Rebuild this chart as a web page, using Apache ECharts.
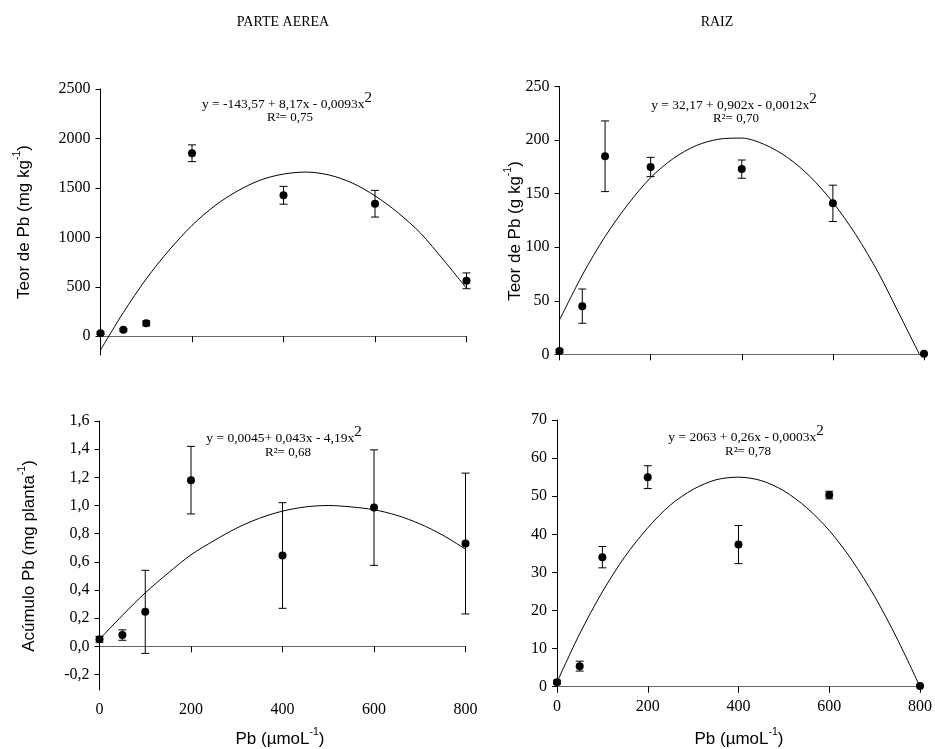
<!DOCTYPE html>
<html>
<head>
<meta charset="utf-8">
<script src="https://cdn.jsdelivr.net/npm/echarts@6/dist/echarts.min.js"></script>
<style>
html,body{margin:0;padding:0;background:#fff;}
#chart{width:935px;height:749px;}
</style>
</head>
<body>
<div id="chart"></div>
<script>
// ---- data ----
const doses = [0, 50, 100, 200, 400, 600, 800];

const teorParte    = [30, 65, 130, 1850, 1425, 1340, 560];
const teorParteErr = [12, 12, 25, 85, 90, 135, 80];

const teorRaiz    = [3, 45, 185, 175, 173, 141, 0.5];
const teorRaizErr = [1.5, 16, 33, 9, 8.5, 17, 0.5];

const acumParte    = [0.05, 0.08, 0.245, 1.18, 0.645, 0.985, 0.73];
const acumParteErr = [0.02, 0.037, 0.295, 0.24, 0.375, 0.41, 0.5];

const acumRaiz    = [1.2, 5.4, 34, 55, 37.3, 50.3, 0.2];
const acumRaizErr = [0.5, 1.3, 2.8, 3, 5, 1, 0.2];

// fitted curves, read at regular x positions
const curveX = [0, 50, 100, 150, 200, 250, 300, 350, 400, 450, 500, 550, 600, 650, 700, 750, 800];
const curveXRaiz = [0, 50, 100, 150, 200, 250, 300, 350, 400, 450, 500, 550, 600, 650, 700, 750, 790];
const curveTeorParte = [-140, 240, 580, 870, 1120, 1320, 1470, 1580, 1640, 1660, 1630, 1550, 1420, 1250, 1040, 770, 485];
const curveTeorRaiz  = [32, 74, 110, 140, 165, 183, 195, 201, 202, 196, 184, 166, 142, 112, 76, 34, 0];
const curveAcumParte = [0.05, 0.22, 0.38, 0.52, 0.65, 0.75, 0.84, 0.91, 0.96, 0.99, 1.00, 0.99, 0.97, 0.93, 0.87, 0.79, 0.69];
const curveAcumRaiz  = [1.2, 13.9, 24.9, 34.2, 41.7, 47.7, 51.8, 54.3, 55.0, 54.1, 51.4, 47.0, 41.0, 33.2, 23.7, 12.5, 0];

const xTicks = [0, 200, 400, 600, 800];
const yTicksTeorParte = [0, 500, 1000, 1500, 2000, 2500];
const yTicksAcumParte = [-0.2, 0, 0.2, 0.4, 0.6, 0.8, 1.0, 1.2, 1.4, 1.6];

const panelTitles = ['PARTE AEREA', 'RAIZ'];
const equations = [
  ['y = -143,57 + 8,17x - 0,0093x', 'R²= 0,75'],
  ['y = 32,17 + 0,902x - 0,0012x', 'R²= 0,70'],
  ['y = 0,0045+ 0,043x - 4,19x', 'R²= 0,68'],
  ['y = 2063 + 0,26x - 0,0003x', 'R²= 0,78']
];

// ---- chart ----
const SERIF = '"Liberation Serif", "Times New Roman", serif';
const SANS = '"Liberation Sans", Arial, sans-serif';

const grids = [
  {left: 100.5, top: 89, width: 366, height: 266},
  {left: 559.5, top: 86.7, width: 364.5, height: 267.6},
  {left: 99.5, top: 421, width: 366, height: 269},
  {left: 557, top: 420, width: 365.3, height: 266.7}
];

function xAxis(i, showLabels) {
  return {
    type: 'value', gridIndex: i, min: 0, max: 800, interval: 200,
    axisLine: {show: true, lineStyle: {color: '#666', width: 1}},
    axisTick: {show: true, length: 6, lineStyle: {color: '#000'}, customValues: xTicks},
    axisLabel: {show: showLabels, customValues: xTicks, formatter: v => String(v),
                fontFamily: SERIF, fontSize: 16, color: '#000', margin: 12},
    splitLine: {show: false}
  };
}
function fmtComma(v) { return v.toFixed(1).replace('.', ','); }
function fmtPlain(v) { return String(Math.round(v)); }

const yAxes = [
  {type: 'value', gridIndex: 0, min: -190, max: 2500,
   axisLabel: {customValues: yTicksTeorParte, formatter: fmtPlain}, axisTick: {customValues: yTicksTeorParte}},
  {type: 'value', gridIndex: 1, min: 0, max: 250, interval: 50, axisLabel: {formatter: fmtPlain}},
  {type: 'value', gridIndex: 2, min: -0.31, max: 1.6,
   axisLabel: {customValues: yTicksAcumParte, formatter: fmtComma}, axisTick: {customValues: yTicksAcumParte}},
  {type: 'value', gridIndex: 3, min: 0, max: 70, interval: 10, axisLabel: {formatter: fmtPlain}}
].map(a => Object.assign({
  axisLine: {show: true, onZero: false, lineStyle: {color: '#000', width: 1}},
  splitLine: {show: false}
}, a, {
  axisTick: Object.assign({show: true, length: 5, lineStyle: {color: '#000'}}, a.axisTick || {}),
  axisLabel: Object.assign({fontFamily: SERIF, fontSize: 16, color: '#000', margin: 10}, a.axisLabel || {})
}));

function pts(xs, ys) { return xs.map((x, i) => [x, ys[i]]); }
function errPts(xs, ys, es) { return xs.map((x, i) => [x, ys[i], es[i]]); }

function errorSeries(i, data) {
  return {
    type: 'custom', xAxisIndex: i, yAxisIndex: i, data: data, clip: false, z: 3,
    renderItem: function (params, api) {
      const x = api.value(0), y = api.value(1), e = api.value(2);
      const hi = api.coord([x, y + e]);
      const lo = api.coord([x, y - e]);
      const w = 4;
      const st = {stroke: '#000', lineWidth: 1};
      return {type: 'group', children: [
        {type: 'line', shape: {x1: hi[0], y1: hi[1], x2: lo[0], y2: lo[1]}, style: st},
        {type: 'line', shape: {x1: hi[0] - w, y1: hi[1], x2: hi[0] + w, y2: hi[1]}, style: st},
        {type: 'line', shape: {x1: lo[0] - w, y1: lo[1], x2: lo[0] + w, y2: lo[1]}, style: st}
      ]};
    }
  };
}
function curveSeries(i, data) {
  return {type: 'line', xAxisIndex: i, yAxisIndex: i, data: data, smooth: 0.3, symbol: 'none',
          lineStyle: {color: '#000', width: 1}, z: 2, clip: true};
}
function pointSeries(i, data) {
  return {type: 'scatter', xAxisIndex: i, yAxisIndex: i, data: data, symbol: 'circle', symbolSize: 8,
          itemStyle: {color: '#000', opacity: 1}, z: 4, clip: false};
}

const series = [
  curveSeries(0, pts(curveX, curveTeorParte)),
  errorSeries(0, errPts(doses, teorParte, teorParteErr)),
  pointSeries(0, pts(doses, teorParte)),
  curveSeries(1, pts(curveXRaiz, curveTeorRaiz)),
  errorSeries(1, errPts(doses, teorRaiz, teorRaizErr)),
  pointSeries(1, pts(doses, teorRaiz)),
  curveSeries(2, pts(curveX, curveAcumParte)),
  errorSeries(2, errPts(doses, acumParte, acumParteErr)),
  pointSeries(2, pts(doses, acumParte)),
  curveSeries(3, pts(curveX, curveAcumRaiz)),
  errorSeries(3, errPts(doses, acumRaiz, acumRaizErr)),
  pointSeries(3, pts(doses, acumRaiz))
];

// text elements
const eqRich = {
  a: {fontFamily: SERIF, fontSize: 13.5, color: '#000', lineHeight: 21, verticalAlign: 'bottom'},
  s: {fontFamily: SERIF, fontSize: 15, color: '#000', lineHeight: 15, verticalAlign: 'top'}
};
const labRich = {
  n: {fontFamily: SANS, fontSize: 17, color: '#000', lineHeight: 21, verticalAlign: 'bottom'},
  s: {fontFamily: SANS, fontSize: 10.5, color: '#000', lineHeight: 10, verticalAlign: 'top'}
};
const eqPos = [[287, 101, 290, 118], [734, 102, 736, 119], [284, 435, 288, 453], [746, 434, 748, 452]];

const graphic = [];
graphic.push({type: 'text', x: 283, y: 22, style: {text: panelTitles[0], fontFamily: SERIF, fontSize: 14, fill: '#000', align: 'center', verticalAlign: 'middle'}});
graphic.push({type: 'text', x: 717, y: 22, style: {text: panelTitles[1], fontFamily: SERIF, fontSize: 14, fill: '#000', align: 'center', verticalAlign: 'middle'}});
equations.forEach((eq, i) => {
  const p = eqPos[i];
  graphic.push({type: 'text', x: p[0], y: p[1], style: {text: '{a|' + eq[0] + '}{s|2}', rich: eqRich, align: 'center', verticalAlign: 'middle'}});
  graphic.push({type: 'text', x: p[2], y: p[3], style: {text: eq[1], fontFamily: SERIF, fontSize: 13, fill: '#000', align: 'center', verticalAlign: 'middle'}});
});
function yLabel(x, y, main, sup, tail) {
  graphic.push({type: 'text', x: x, y: y, rotation: Math.PI / 2,
    style: {text: '{n|' + main + '}{s|' + sup + '}{n|' + tail + '}', rich: labRich, align: 'center', verticalAlign: 'middle'}});
}
yLabel(22, 222, 'Teor de Pb (mg kg', '-1', ')');
yLabel(513, 231, 'Teor de Pb (g kg', '-1', ')');
yLabel(27, 556, 'Acúmulo Pb (mg planta', '-1', ')');
function xLabel(x, y) {
  graphic.push({type: 'text', x: x, y: y,
    style: {text: '{n|Pb (\u00B5moL}{s|-1}{n|)}', rich: labRich, align: 'center', verticalAlign: 'middle'}});
}
xLabel(280, 737);
xLabel(739, 737);

const chart = echarts.init(document.getElementById('chart'), null, {renderer: 'canvas'});
chart.setOption({
  animation: false,
  backgroundColor: '#fff',
  grid: grids,
  xAxis: [xAxis(0, false), xAxis(1, false), xAxis(2, true), xAxis(3, true)],
  yAxis: yAxes,
  series: series,
  graphic: graphic
});
</script>
</body>
</html>
